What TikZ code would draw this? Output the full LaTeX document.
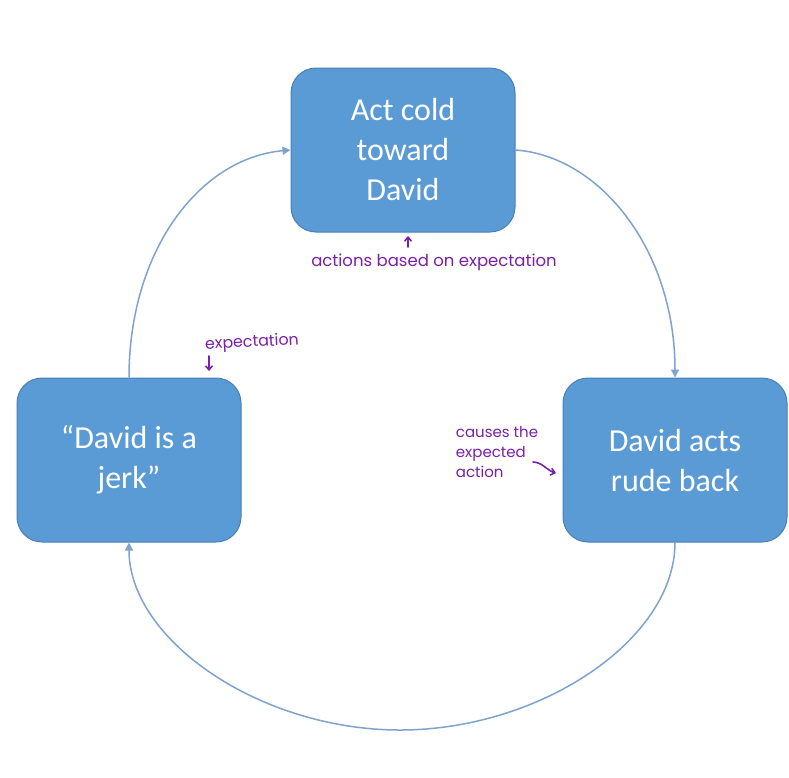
\documentclass[tikz,border=0pt]{standalone}
\usepackage{fontspec}
\setmainfont{Carlito}
\newfontfamily\handfont{Poppins}
\usetikzlibrary{arrows.meta}
\definecolor{boxfill}{HTML}{5B9BD5}
\definecolor{boxline}{HTML}{4A7FB5}
\definecolor{arrowc}{HTML}{7FA3CF}
\definecolor{hand}{HTML}{7A1FA8}
\tikzset{
  box/.style={draw=boxline, line width=1pt, fill=boxfill, rounded corners=25pt,
    minimum width=224pt, minimum height=164pt, text=white, align=center,
    font=\fontsize{32}{40}\selectfont, inner sep=0pt},
  flow/.style={draw=arrowc, line width=1.5pt, -{Triangle[width=8pt,length=8pt]}},
  note/.style={text=hand, font=\handfont\fontsize{15}{20}\selectfont, align=center, inner sep=0pt},
  notearrow/.style={draw=hand, line width=1.6pt, -{Straight Barb[length=4pt,width=7pt]}, line cap=round}
}
\begin{document}
\begin{tikzpicture}[x=1pt,y=-1pt]
\useasboundingbox (0,0) rectangle (789,777);
\fill[white] (0,0) rectangle (789,777);
\node[box] (top) at (403,150) {Act cold\\toward\\David};
\node[box] (left) at (129,460) {“David is a\\jerk”};
\node[box] (right) at (675,460) {David acts\\rude back};

\draw[flow] (left.north) .. controls (129,250) and (200,158) .. (top.west);
\draw[flow] (top.east) .. controls (600,156) and (675,250) .. (right.north);
\draw[flow] (right.south) .. controls (675,640) and (540,730) .. (400,730)
  .. controls (260,730) and (129,640) .. (left.south);

\node[note, font=\handfont\fontsize{16.5}{20}\selectfont] (n1) at (434,262) {actions based on expectation};
\coordinate (n1a) at (408,247);
\coordinate (n1b) at (408,236);
\draw[notearrow] (n1a) -- (n1b);

\node[note, rotate=3, font=\handfont\fontsize{15.8}{20}\selectfont] (n2) at (252,343) {expectation};
\coordinate (n2a) at (209,356);
\coordinate (n2b) at (209,371);
\draw[notearrow] (n2a) -- (n2b);

\node[note, align=left] (n3) at (497,452) {causes the\\expected\\action};
\coordinate (n3a) at (533,462);
\coordinate (n3b) at (556,473);
\draw[notearrow] (n3a) .. controls (542,462) and (548,471) .. (n3b);
\end{tikzpicture}
\end{document}
